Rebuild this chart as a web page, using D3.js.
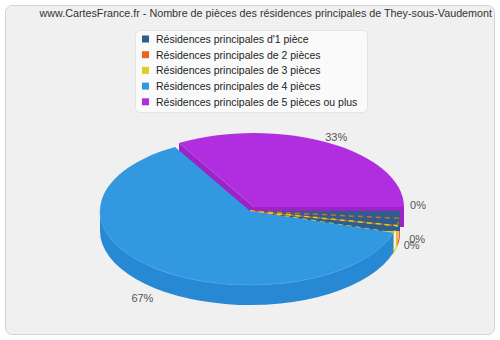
<!DOCTYPE html>
<html><head><meta charset="utf-8">
<script src="https://cdn.jsdelivr.net/npm/d3@7"></script>
<style>html,body{margin:0;padding:0;background:#fff}svg{display:block}</style>
</head><body>
<svg id="c" width="500" height="340"></svg>
<script>
const title = "www.CartesFrance.fr - Nombre de pièces des résidences principales de They-sous-Vaudemont";
const categories = ["Résidences principales d'1 pièce","Résidences principales de 2 pièces","Résidences principales de 3 pièces","Résidences principales de 4 pièces","Résidences principales de 5 pièces ou plus"];
const values = [0, 0, 0, 2, 1];
const colors = ["#2d5e8e","#e8641f","#ddcf1f","#3298e0","#b02ee0"];
const sideColors = ["#26507a","#c8561a","#bfb31a","#2789d4","#9b23c8"];

const svg = d3.select("#c");
const font = "'Liberation Sans', Arial, sans-serif";

svg.append("rect").attr("x",5.5).attr("y",5.5).attr("width",489).attr("height",329).attr("rx",7)
  .attr("fill","#f0f0f0").attr("stroke","#d2d2d2");

svg.append("text").attr("x",492).attr("y",17).attr("text-anchor","end")
  .attr("font-family",font).attr("font-size","10.75px").attr("fill","#333").text(title);

// legend
const lg = svg.append("g");
lg.append("rect").attr("x",135.5).attr("y",30.5).attr("width",232).attr("height",82).attr("rx",5)
  .attr("fill","#fafafa").attr("stroke","#e4e4e4");
categories.forEach((c,i)=>{
  const y = 39 + i*15.7;
  lg.append("rect").attr("x",142).attr("y",y-3.5).attr("width",7).attr("height",7).attr("fill",colors[i]);
  lg.append("text").attr("x",156).attr("y",y+4).attr("font-family",font).attr("font-size","10.5px")
    .attr("fill","#222").text(c);
});

// 3D pie
const cx = 250, cy = 211, rx = 150, ry = 74, depth = 20;
const total = d3.sum(values);
const raw = d3.pie().sort(null).value(d=>d).startAngle(Math.PI/2).endAngle(Math.PI/2+2*Math.PI)(values);
// zero slices get a small visible sweep, taken from the following slice
const minSweep = 0.1;
let cur = Math.PI/2, debt = 0;
const arcs = raw.map((a,i)=>{
  let sweep = a.endAngle - a.startAngle;
  if (a.value === 0) { sweep = minSweep; debt += minSweep; }
  else if (debt>0) { sweep -= debt; debt = 0; }
  const o = {i, value:a.value, a0:cur, a1:cur+sweep};
  cur += sweep;
  return o;
});
const explode = {4:[4,-4]};
function P(a, off, z, k){ if (k===undefined) k = 1; return [cx+off[0]+rx*k*Math.sin(a), cy+off[1]-ry*k*Math.cos(a)+(z||0)]; }
function topPath(s){
  const off = explode[s.i]||[0,0];
  const c = P(0,off,0,0), p0 = P(s.a0,off), p1 = P(s.a1,off);
  const large = (s.a1-s.a0)>Math.PI?1:0;
  return `M${c}L${p0}A${rx},${ry} 0 ${large} 1 ${p1}Z`;
}
function outerWall(s){
  const off = explode[s.i]||[0,0];
  const b0 = Math.max(s.a0, Math.PI/2), b1 = Math.min(s.a1, 3*Math.PI/2);
  if (b1<=b0) return null;
  const p0 = P(b0,off), p1 = P(b1,off), q1 = P(b1,off,depth), q0 = P(b0,off,depth);
  const large = (b1-b0)>Math.PI?1:0;
  return `M${p0}A${rx},${ry} 0 ${large} 1 ${p1}L${q1}A${rx},${ry} 0 ${large} 0 ${q0}Z`;
}
function radialWall(s, a){
  const off = explode[s.i]||[0,0];
  const c = P(0,off,0,0), p = P(a,off), pd = P(a,off,depth), cd = P(0,off,depth,0);
  return `M${c}L${p}L${pd}L${cd}Z`;
}
const g = svg.append("g");
// radial walls of the exploded slice
g.append("path").attr("d",radialWall(arcs[4],arcs[4].a0)).attr("fill",sideColors[4]);
g.append("path").attr("d",radialWall(arcs[4],arcs[4].a1)).attr("fill",sideColors[4]);
// outer walls
arcs.forEach(s=>{
  const d = outerWall(s); if(!d) return;
  const p = g.append("path").attr("d",d).attr("fill",sideColors[s.i]);
  if (s.value===0 && s.i>0) p.attr("fill","none").attr("stroke",colors[s.i]).attr("stroke-width",1.2);
});
// top faces of zero slices
arcs.filter(s=>s.value===0).forEach(s=>{
  g.append("path").attr("d",topPath(s)).attr("fill",colors[s.i]);
});
// wall of first zero slice at its start angle
g.append("path").attr("d",radialWall(arcs[0],arcs[0].a0)).attr("fill",colors[0]);
arcs.filter(s=>s.value===0 && s.i>0).forEach(s=>{
  g.append("path").attr("d",topPath(s)).attr("fill","none").attr("stroke",colors[s.i]).attr("stroke-width",1.5)
    .attr("stroke-dasharray","5,4");
});
// top faces of real slices
[4,3].forEach(i=>{
  const s = arcs[i];
  g.append("path").attr("d",topPath(s)).attr("fill",colors[i]);
});
// light rim on blue top edge
(function(){
  const s = arcs[3];
  const b0 = Math.max(s.a0, Math.PI/2), b1 = Math.min(s.a1, 3*Math.PI/2);
  g.append("path").attr("d",`M${P(b0,[0,0])}A${rx},${ry} 0 0 1 ${P(b1,[0,0])}`)
    .attr("fill","none").attr("stroke","#45a3e8").attr("stroke-width",1);
})();

// labels
const nudges = {0:[0,-6],1:[0,0],2:[-3,-2],3:[0,0],4:[0,0]};
arcs.forEach(s=>{
  const mid = (s.a0+s.a1)/2;
  let [x,y] = P(mid, [0,0], 0, 1.15);
  if (Math.cos(mid)<0) y += depth;
  if (s.value===0) { [x,y] = P(s.a0, [0,0], Math.cos(s.a0)<0?depth:0, 1.12); }
  const n = nudges[s.i];
  const pct = Math.round(s.value/total*100)+"%";
  svg.append("text").attr("x",x+n[0]).attr("y",y+n[1]+4).attr("text-anchor","middle")
    .attr("font-family",font).attr("font-size","11px").attr("fill","#555").text(pct);
});
</script>
</body></html>
